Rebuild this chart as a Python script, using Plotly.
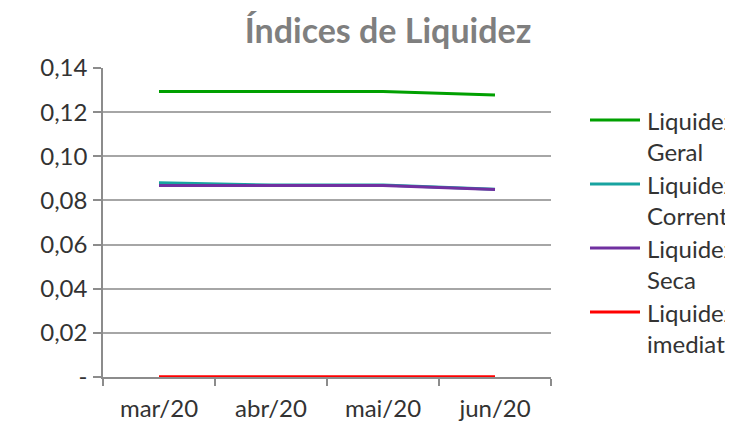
import plotly.graph_objects as go

categories = ["mar/20", "abr/20", "mai/20", "jun/20"]
series_names = ["Liquidez<br>Geral", "Liquidez<br>Corrente", "Liquidez<br>Seca", "Liquidez<br>imediata"]
geral = [0.1294, 0.1294, 0.1294, 0.1278]
corrente = [0.0880, 0.0870, 0.0870, 0.0851]
seca = [0.0868, 0.0868, 0.0868, 0.0850]
imediata = [0.0001, 0.0001, 0.0001, 0.0001]
colors = ["#00A000", "#18A3A0", "#7030A0", "#FF0000"]
ytick_vals = [0, 0.02, 0.04, 0.06, 0.08, 0.10, 0.12, 0.14]
ytick_text = ["-", "0,02", "0,04", "0,06", "0,08", "0,10", "0,12", "0,14"]

FONT = "Lato"
W, H = 733, 421
OFF = 8  # page body margin offset
# plot area in page pixels
PL, PR, PT, PB = 103, 551, 68, 377

fig = go.Figure()
for name, vals, col in zip(series_names, [geral, corrente, seca, imediata], colors):
    fig.add_trace(go.Scatter(x=categories, y=vals, mode="lines", name=name,
                             line=dict(color=col, width=3), showlegend=False))

# manual legend (overflows right edge as in reference)
leg_y0 = 120
for i, (name, col) in enumerate(zip(series_names, colors)):
    yp = leg_y0 + i * 64
    yf = (PB - yp) / (PB - PT)
    fig.add_shape(type="line", xref="paper", yref="paper",
                  x0=(590 - PL) / (PR - PL), x1=(640 - PL) / (PR - PL), y0=yf, y1=yf,
                  line=dict(color=col, width=3))
    fig.add_annotation(xref="paper", yref="paper", x=(645 - PL) / (PR - PL),
                       y=(PB - yp + 16) / (PB - PT), xanchor="left", yanchor="top",
                       text=name, showarrow=False, align="left",
                       font=dict(family=FONT, size=24, color="#333333"))

fig.update_layout(
    width=W, height=H,
    margin=dict(l=PL - OFF, r=W - PR + OFF, t=PT - OFF, b=H - PB + OFF, autoexpand=False),
    paper_bgcolor="white", plot_bgcolor="white",
    title=dict(text="<b>Índices de Liquidez</b>", x=(388 - OFF) / W, xanchor="center",
               y=1 - (31 - OFF) / H, yanchor="middle",
               font=dict(family=FONT, size=34, color="#7F7F7F")),
    font=dict(family=FONT, size=24, color="#333333"),
    xaxis=dict(type="category", range=[-0.5, 3.5], showgrid=False, automargin=False,
               showline=True, linecolor="#8C8C8C", linewidth=1.5,
               ticks="outside", tickson="boundaries", ticklen=7, tickcolor="#8C8C8C",
               tickwidth=1.5, ticklabelstandoff=9),
    yaxis=dict(range=[0, 0.14], tickvals=ytick_vals, ticktext=ytick_text, automargin=False,
               showgrid=True, gridcolor="#A6A6A6", gridwidth=1.5,
               showline=True, linecolor="#8C8C8C", linewidth=1.5,
               ticks="outside", ticklen=8, tickcolor="#8C8C8C", tickwidth=1.5,
               zeroline=False, ticklabelstandoff=1),
)
fig.write_html("out.html")
